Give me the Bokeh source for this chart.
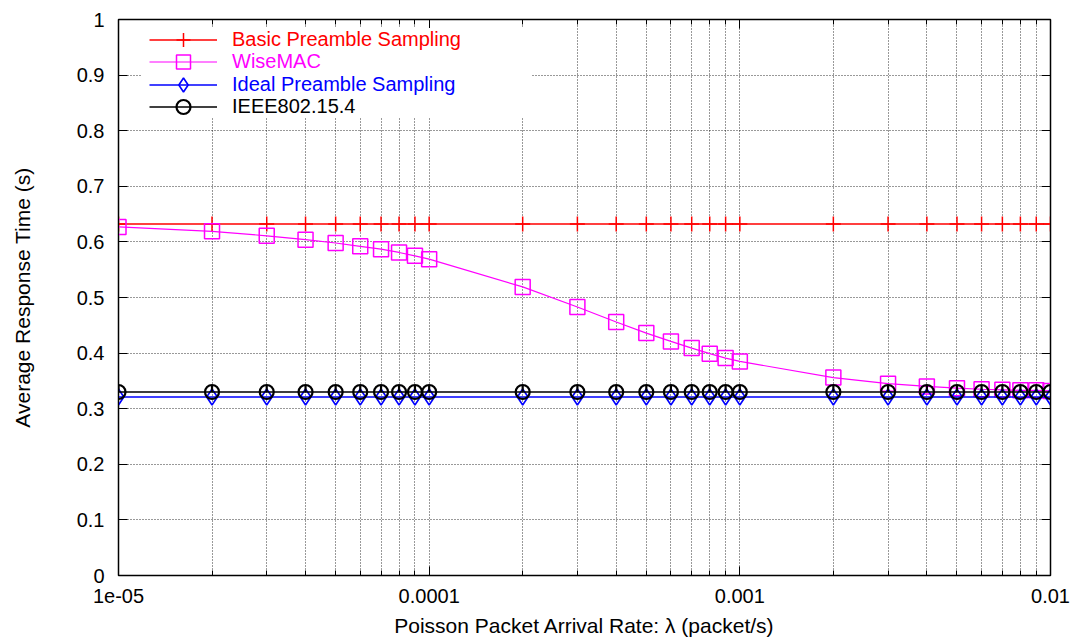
from bokeh.plotting import figure
from bokeh.models import Range1d, FixedTicker, LogAxis, LinearAxis, Legend, LegendItem
from bokeh.embed import file_html
from bokeh.resources import INLINE

# Packet arrival rates (packet/s)
rates = [1e-5, 2e-5, 3e-5, 4e-5, 5e-5, 6e-5, 7e-5, 8e-5, 9e-5,
         1e-4, 2e-4, 3e-4, 4e-4, 5e-4, 6e-4, 7e-4, 8e-4, 9e-4,
         1e-3, 2e-3, 3e-3, 4e-3, 5e-3, 6e-3, 7e-3, 8e-3, 9e-3,
         1e-2]

# Average response time (s) per protocol
basic_preamble = [0.632, 0.632, 0.632, 0.632, 0.632, 0.632, 0.632, 0.632, 0.632,
                  0.632, 0.632, 0.632, 0.632, 0.632, 0.632, 0.632, 0.632, 0.632,
                  0.632, 0.632, 0.632, 0.632, 0.632, 0.632, 0.632, 0.632, 0.632,
                  0.632]
wisemac = [0.627, 0.619, 0.611, 0.604, 0.598, 0.592, 0.587, 0.581, 0.575,
           0.569, 0.519, 0.483, 0.456, 0.436, 0.421, 0.409, 0.399, 0.391,
           0.385, 0.356, 0.345, 0.340, 0.337, 0.335, 0.334, 0.333, 0.333,
           0.332]
ideal_preamble = [0.321, 0.321, 0.321, 0.321, 0.321, 0.321, 0.321, 0.321, 0.321,
                  0.321, 0.321, 0.321, 0.321, 0.321, 0.321, 0.321, 0.321, 0.321,
                  0.321, 0.321, 0.321, 0.321, 0.321, 0.321, 0.321, 0.321, 0.321,
                  0.321]
ieee802154 = [0.330, 0.330, 0.330, 0.330, 0.330, 0.330, 0.330, 0.330, 0.330,
              0.330, 0.330, 0.330, 0.330, 0.330, 0.330, 0.330, 0.330, 0.330,
              0.330, 0.330, 0.330, 0.330, 0.330, 0.330, 0.330, 0.330, 0.330,
              0.330]

series_names = ["Basic Preamble Sampling", "WiseMAC",
                "Ideal Preamble Sampling", "IEEE802.15.4"]

x_tick_values = [1e-5, 1e-4, 1e-3, 1e-2]
x_tick_labels = ["1e-05", "0.0001", "0.001", "0.01"]
y_tick_values = [0, 0.1, 0.2, 0.3, 0.4, 0.5, 0.6, 0.7, 0.8, 0.9, 1]
y_tick_labels = ["0", "0.1", "0.2", "0.3", "0.4", "0.5", "0.6", "0.7", "0.8", "0.9", "1"]

FONT = "Liberation Sans"
x_minor = [r for r in rates if r not in x_tick_values]

p = figure(width=1077, height=639, x_axis_type="log",
           x_range=Range1d(1e-5, 1e-2), y_range=Range1d(0, 1),
           output_backend="svg", toolbar_location=None,
           min_border_left=118, min_border_right=27,
           min_border_top=19, min_border_bottom=63)
p.background_fill_color = "white"
p.border_fill_color = "white"
p.outline_line_color = "black"
p.outline_line_width = 1.5

xticker = FixedTicker(ticks=x_tick_values, minor_ticks=x_minor)
yticker = FixedTicker(ticks=y_tick_values, minor_ticks=[])

# bottom axis
xa = p.xaxis[0]
xa.ticker = xticker
xa.major_label_overrides = dict(zip(x_tick_values, x_tick_labels))
xa.axis_label = "Poisson Packet Arrival Rate: \u03bb (packet/s)"
xa.axis_label_standoff = 8
xa.major_label_standoff = 13

# left axis
ya = p.yaxis[0]
ya.ticker = yticker
ya.major_label_overrides = dict(zip(y_tick_values, y_tick_labels))
ya.axis_label = "Average Response Time (s)"
ya.axis_label_standoff = 40
ya.major_label_standoff = 14

for ax in (xa, ya):
    ax.axis_label_text_font = FONT
    ax.axis_label_text_font_style = "normal"
    ax.axis_label_text_font_size = "21px"
    ax.axis_label_text_color = "black"
    ax.major_label_text_font = FONT
    ax.major_label_text_font_size = "20px"
    ax.major_label_text_color = "black"
    ax.axis_line_color = "black"
    ax.major_tick_in = 9
    ax.major_tick_out = 0
    ax.minor_tick_in = 5
    ax.minor_tick_out = 0
    ax.major_tick_line_color = "black"
    ax.minor_tick_line_color = "black"

# mirrored ticks on top and right
top = LogAxis(ticker=xticker, major_label_overrides={v: "" for v in x_tick_values},
              major_label_standoff=0, major_tick_in=9, major_tick_out=0,
              minor_tick_in=5, minor_tick_out=0, axis_line_color="black")
right = LinearAxis(ticker=yticker, major_label_overrides={v: "" for v in y_tick_values},
                   major_label_standoff=0, major_tick_in=9, major_tick_out=0,
                   minor_tick_out=0, axis_line_color="black")
p.add_layout(top, "above")
p.add_layout(right, "right")

# dotted grid
p.xgrid.ticker = xticker
p.ygrid.ticker = yticker
for g in (p.xgrid, p.ygrid):
    g.grid_line_color = "black"
    g.grid_line_dash = "1 2"
    g.grid_line_width = 1
    g.grid_line_alpha = 0.8
p.xgrid.minor_grid_line_color = "black"
p.xgrid.minor_grid_line_dash = "1 2"
p.xgrid.minor_grid_line_width = 1
p.xgrid.minor_grid_line_alpha = 0.8

# series
r_line = p.line(rates, basic_preamble, line_color="#ff0000", line_width=1.5)
r_mk = p.scatter(rates, basic_preamble, marker="cross", size=15,
                 line_color="#ff0000", line_width=1.5)

w_line = p.line(rates, wisemac, line_color="#ff00ff", line_width=1.2)
w_mk = p.scatter(rates, wisemac, marker="square", size=15, fill_color=None,
                 line_color="#ff00ff", line_width=1.5)

b_line = p.line(rates, ideal_preamble, line_color="#0000ff", line_width=1.5)
b_mk = p.scatter(rates, ideal_preamble, marker="diamond", size=16, fill_color=None,
                 line_color="#0000ff", line_width=1.6)

k_line = p.line(rates, ieee802154, line_color="black", line_width=1.5)
k_mk = p.scatter(rates, ieee802154, marker="circle", size=14, fill_color=None,
                 line_color="black", line_width=2.2)
k_tick = p.ray(rates, ieee802154, length=7, length_units="screen",
               angle=90, angle_units="deg", line_color="black", line_width=2.2)

# invisible renderer used only for the legend's white backing panel
backing = p.line(rates, basic_preamble, line_alpha=0)
p.add_layout(Legend(items=[LegendItem(label=" ", renderers=[backing])],
                    location=(24, 457), padding=0, margin=0, spacing=0,
                    glyph_width=370, glyph_height=90, label_height=90,
                    label_standoff=0, label_text_font_size="2px",
                    border_line_color=None,
                    background_fill_color="white", background_fill_alpha=1.0),
             "center")

# one legend per entry so each label takes its series colour
entries = [
    (series_names[0], [r_line, r_mk], "#ff0000"),
    (series_names[1], [w_line, w_mk], "#ff00ff"),
    (series_names[2], [b_line, b_mk], "#0000ff"),
    (series_names[3], [k_line, k_mk], "black"),
]
for i, (name, rends, col) in enumerate(entries):
    leg = Legend(items=[LegendItem(label=name, renderers=rends)],
                 location=(31, 518.5 - 22.5 * i),
                 padding=0, margin=0, spacing=0,
                 glyph_width=68, glyph_height=35, label_height=35,
                 label_standoff=15,
                 label_text_font=FONT, label_text_font_size="20px",
                 label_text_color=col,
                 border_line_color=None,
                 background_fill_alpha=0.0)
    p.add_layout(leg, "center")

open("out.html", "w").write(file_html(p, INLINE))
